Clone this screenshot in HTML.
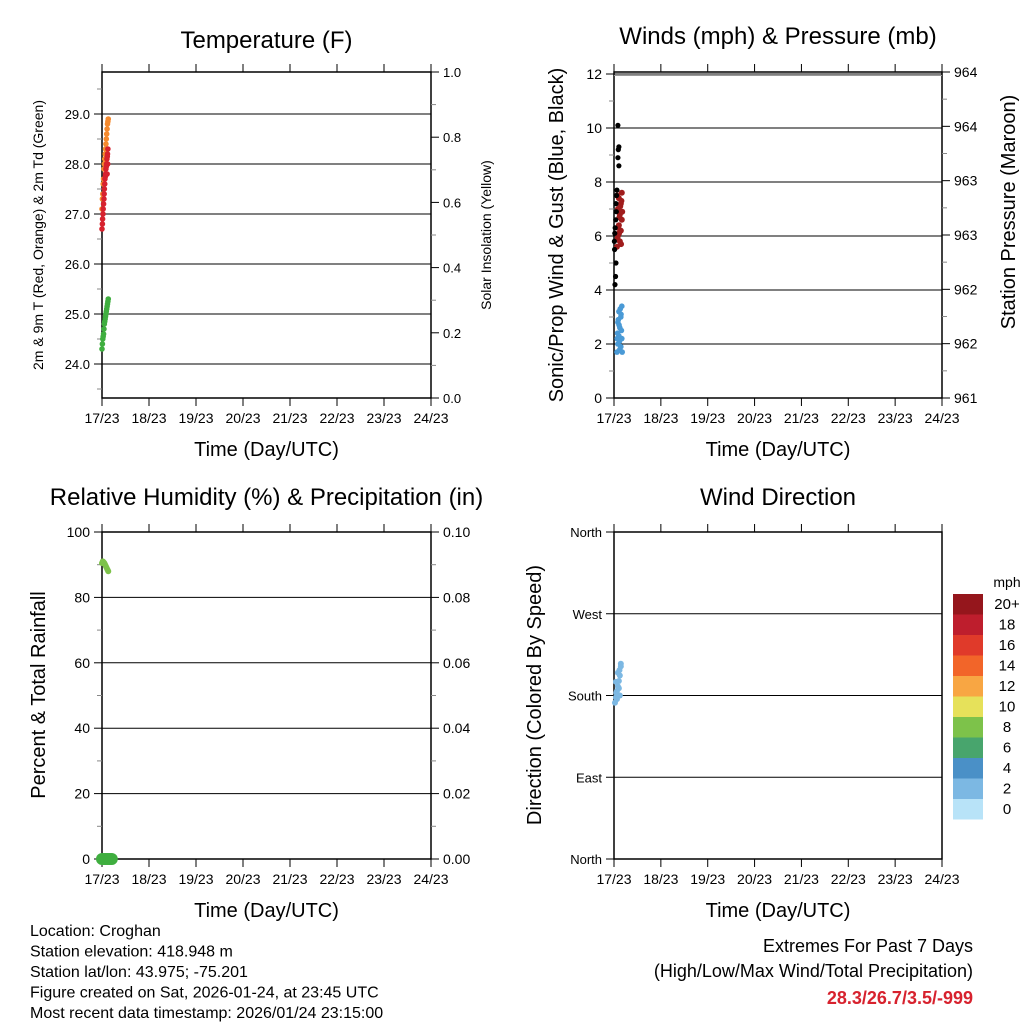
<!DOCTYPE html>
<html><head><meta charset="utf-8"><style>
body{margin:0;background:#fff;}
svg{display:block;font-family:"Liberation Sans",sans-serif;}
</style></head><body>
<svg id="c" width="1024" height="1024" viewBox="0 0 1024 1024"></svg>
<script>
// ---- data ----
const xTickLabels=["17/23","18/23","19/23","20/23","21/23","22/23","23/23","24/23"];
const tempRedT=[0,0.2,0.3,0.5,0.6,0.8,1.0,1.1,1.2,1.4,1.5,1.7,1.8,2.0,2.2,2.3,2.5,2.7,2.8,3.0,2.6,2.9];
const tempRed=[26.7,26.8,26.9,27.0,27.1,27.2,27.3,27.4,27.5,27.6,27.7,27.75,27.8,27.9,27.95,28.0,28.1,28.15,28.2,28.3,27.8,28.0];
const tempOrangeT=[0,0.2,0.4,0.6,0.8,1.0,1.2,1.4,1.6,1.8,2.0,2.2,2.4,2.6,2.8,3.0,3.2];
const tempOrange=[27.1,27.3,27.4,27.6,27.7,27.9,28.0,28.1,28.2,28.3,28.4,28.5,28.6,28.7,28.8,28.85,28.9];
const tempGreenT=[0,0.2,0.4,0.6,0.8,1.0,1.2,1.4,1.6,1.8,2.0,2.2,2.4,2.6,2.8,3.0,3.2];
const tempGreen=[24.3,24.4,24.5,24.55,24.6,24.7,24.8,24.85,24.9,24.95,25.0,25.05,25.1,25.15,25.2,25.25,25.3];
const tempTicks=[24.0,25.0,26.0,27.0,28.0,29.0];
const windBlueT=[1.5,2,2.5,3,3.5,4,2,3,4,2.5,3.5,1.8,2.2,2.8,3.2,3.8,4.2,1.6,2.6,3.6];
const windBlue=[1.7,2.0,2.3,2.6,3.0,3.4,2.8,1.8,2.2,3.2,1.9,2.4,2.9,2.1,3.3,2.5,1.7,2.2,2.7,3.1];
const windRedT=[1.5,2,2.5,3,3.5,4,2,3,4,2.5,3.5,1.8,2.2,2.8,3.2,3.8,4.2,1.6,2.6,3.6];
const windRed=[5.6,6.0,6.4,6.8,7.2,7.6,7.0,5.8,6.6,7.4,6.2,5.9,6.3,6.7,7.1,7.3,6.9,7.5,6.1,5.7];
const gustT=[0.5,0.8,1.0,0.3,0.2,0.4,0.6,0.9,1.2,1.0,1.3,1.5,2.5,2.0,2.2,2.5,2.0];
const gust=[4.2,4.5,5.0,5.5,5.8,6.1,6.3,6.6,6.9,7.2,7.5,7.7,8.6,8.9,9.2,9.3,10.1];
const windTicks=[0,2,4,6,8,10,12];
const presTicks=["961","962","962","963","963","964","964"];
const rhT=[0,0.4,0.8,1.2,1.6,2.0,2.4,2.8,3.2];
const rh=[90.5,91,90.8,90.5,90,89.5,89,88.5,88];
const precipT=[0,1,2,3,4,5];
const precip=[0,0,0,0,0,0];
const rhTicks=[0,20,40,60,80,100];
const precipTicks=["0.00","0.02","0.04","0.06","0.08","0.10"];
const dirT=[0.5,1,1.5,2,2.5,3,3.5,1,2,3,3.5,2.5,1.5,2.8,1.2];
const dir=[172,178,185,190,196,202,212,195,205,180,215,188,176,208,183];
const dirLabels=["North","East","South","West","North"];
const legendLabels=["20+","18","16","14","12","10","8","6","4","2","0"];
const legendColors=["#95161c","#be1e2d","#e03a2a","#f26529","#f8a643","#e6e15a","#7dc24a","#48a56d","#4a90c7","#7cb8e3","#b8e3f8"];

const svg=document.getElementById('c');
const NS="http://www.w3.org/2000/svg";
function el(tag,attrs,parent){const e=document.createElementNS(NS,tag);for(const k in attrs)e.setAttribute(k,attrs[k]);(parent||svg).appendChild(e);return e;}
function txt(s,x,y,size,anchor,extra,parent){const t=el('text',Object.assign({x:x,y:y,'font-size':size,'text-anchor':anchor||'start',fill:'#000'},extra||{}),parent);t.textContent=s;return t;}

function panel(o){
  const g=el('g',{});
  
  
  const {x0,x1,y0,y1}=o;
  const xs=h=>x0+(h/168)*(x1-x0);
  o.grid.forEach(y=>{const l=el('line',{x1:x0,x2:x1,y1:y,y2:y,stroke:'#000','stroke-width':1},g);});
  el('rect',{x:x0,y:y1,width:x1-x0,height:y0-y1,fill:'none',stroke:'#000','stroke-width':1.5},g);
  xTickLabels.forEach((s,i)=>{const x=x0+i*(x1-x0)/7;
    el('line',{x1:x,x2:x,y1:y0,y2:y0+8,stroke:'#000'},g);
    el('line',{x1:x,x2:x,y1:y1,y2:y1-8,stroke:'#000'},g);
    const t=txt(s,x,y0+25,14,'middle',{},g);});
  const xt=txt('Time (Day/UTC)',(x0+x1)/2,y0+58,20,'middle',{},g);
  
  const tt=txt(o.title,(x0+x1)/2,o.titleY,24,'middle',{},g);
  
  return {g,xs};
}
function yticks(g,x,vals,ys,left,labels,minor,size){
  vals.forEach((v,i)=>{const y=ys(v);
    el('line',{x1:x,x2:left?x-8:x+8,y1:y,y2:y,stroke:'#000'},g);
    const t=txt(labels?labels[i]:v,left?x-12:x+12,y+5,size||14,left?'end':'start',{},g);
    });
  (minor||[]).forEach(v=>{const y=ys(v);el('line',{x1:x,x2:left?x-5:x+5,y1:y,y2:y,stroke:'#888'},g);});
}
function dots(g,T,V,xs,ys,color,r,name){T.forEach((t,i)=>{const c=el('circle',{cx:xs(t),cy:ys(V[i]),r:r,fill:color},g);});}

// Panel 1 temperature
{const x0=102,x1=431,y0=398,y1=72;const ys=v=>114+(29-v)*50;
 const p=panel({name:'temperature-panel',x0,x1,y0,y1,title:'Temperature (F)',titleY:48,grid:tempTicks.map(ys)});
 yticks(p.g,x0,tempTicks,ys,true,tempTicks.map(v=>v.toFixed(1)),[23.5,24.5,25.5,26.5,27.5,28.5,29.5],13);
 const ys2=v=>y0-v*(y0-y1);
 yticks(p.g,x1,[0,0.2,0.4,0.6,0.8,1.0],ys2,false,["0.0","0.2","0.4","0.6","0.8","1.0"],[0.1,0.3,0.5,0.7,0.9],13);
 dots(p.g,tempOrangeT,tempOrange,p.xs,ys,'#f58a2e',2.8,'temp-9m-point');
 dots(p.g,tempRedT,tempRed,p.xs,ys,'#d7222e',2.8,'temp-2m-point');
 dots(p.g,tempGreenT,tempGreen,p.xs,ys,'#3fae3f',2.8,'dewpoint-point');
 const a=txt('2m & 9m T (Red, Orange) & 2m Td (Green)',0,0,14,'middle',{transform:'translate(43,235) rotate(-90)'},p.g);
 const b=txt('Solar Insolation (Yellow)',0,0,14,'middle',{transform:'translate(491,235) rotate(-90)'},p.g);}

// Panel 2 winds
{const x0=614,x1=942,y0=398,y1=72;const ys=v=>y0-v*27;
 const p=panel({name:'winds-panel',x0,x1,y0,y1,title:'Winds (mph) & Pressure (mb)',titleY:44,grid:windTicks.slice(1).map(ys)});
 el('line',{x1:x0,x2:x1,y1:ys(12)+1.5,y2:ys(12)+1.5,stroke:'#999','stroke-width':1},p.g);
 yticks(p.g,x0,windTicks,ys,true,null,[1,3,5,7,9,11]);
 const ys2=v=>y0-v*(y0-y1)/6;
 yticks(p.g,x1,[0,1,2,3,4,5,6],ys2,false,presTicks,[0.5,1.5,2.5,3.5,4.5,5.5]);
 dots(p.g,windRedT,windRed,p.xs,ys,'#a01c1c',3,'sonic-wind-point');
 dots(p.g,windBlueT,windBlue,p.xs,ys,'#4a9ad6',2.8,'prop-wind-point');
 dots(p.g,gustT,gust,p.xs,ys,'#000',2.6,'gust-point');
 const a=txt('Sonic/Prop Wind & Gust (Blue, Black)',0,0,20,'middle',{transform:'translate(563,235) rotate(-90)'},p.g);
 const b=txt('Station Pressure (Maroon)',0,0,20,'middle',{transform:'translate(1015,212) rotate(-90)'},p.g);}

// Panel 3 RH
{const x0=102,x1=431,y0=859,y1=532;const ys=v=>y0-v*(y0-y1)/100;
 const p=panel({name:'humidity-panel',x0,x1,y0,y1,title:'Relative Humidity (%) & Precipitation (in)',titleY:505,grid:rhTicks.slice(1,5).map(ys)});
 yticks(p.g,x0,rhTicks,ys,true,null,[10,30,50,70,90]);
 yticks(p.g,x1,rhTicks,ys,false,precipTicks,[10,30,50,70,90]);
 dots(p.g,rhT,rh,p.xs,ys,'#7dc24a',3,'rh-point');
 const ysP=v=>y0-v*(y0-y1)/0.1;
 dots(p.g,precipT,precip,p.xs,ysP,'#3fae3f',6,'precip-point');
 const a=txt('Percent & Total Rainfall',0,0,20,'middle',{transform:'translate(45,695) rotate(-90)'},p.g);}

// Panel 4 wind direction
{const x0=614,x1=942,y0=859,y1=532;const ys=v=>y0-v*(y0-y1)/360;
 const p=panel({name:'wind-direction-panel',x0,x1,y0,y1,title:'Wind Direction',titleY:505,grid:[90,180,270].map(ys)});
 yticks(p.g,x0,[0,90,180,270,360],ys,true,dirLabels,[],13);
 dots(p.g,dirT,dir,p.xs,ys,'#7cb8e3',3,'wind-direction-point');
 const a=txt('Direction (Colored By Speed)',0,0,20,'middle',{transform:'translate(541,695) rotate(-90)'},p.g);}

// legend
{const g=el('g',{});
 txt('mph',1007,587,14,'middle',{},g);
 legendColors.forEach((c,i)=>{const y=594+i*20.5;el('rect',{x:953,y:y,width:30,height:20.5,fill:c},g);
  const t=txt(legendLabels[i],1007,y+15,15,'middle',{},g);});}

// footer text
{const info=["Location: Croghan","Station elevation: 418.948 m","Station lat/lon: 43.975; -75.201","Figure created on Sat, 2026-01-24, at 23:45 UTC","Most recent data timestamp: 2026/01/24 23:15:00"];
 info.forEach((s,i)=>{const t=txt(s,30,936+i*20.5,16,'start');});
 const e1=txt('Extremes For Past 7 Days',973,952,18,'end');
 const e2=txt('(High/Low/Max Wind/Total Precipitation)',973,977,18,'end');
 const e3=txt('28.3/26.7/3.5/-999',973,1004,18,'end',{fill:'#d7222e','font-weight':'bold'});}
</script>
</body></html>
